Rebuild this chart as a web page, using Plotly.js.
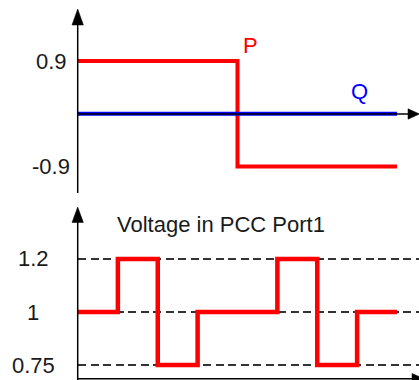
<!DOCTYPE html>
<html>
<head>
<meta charset="utf-8">
<script src="https://cdn.plot.ly/plotly-3.0.1.min.js"></script>
<style>html,body{margin:0;padding:0;background:#fff;}#chart{width:419px;height:380px;}</style>
</head>
<body>
<div id="chart"></div>
<script>
// ---- data ----
var pX = [0, 4, 8];
var pY = [0.9, -0.9, -0.9];
var qX = [0, 8];
var qY = [0, 0];
var vX = [0, 1, 2, 3, 5, 6, 7, 8];
var vY = [1, 1.2, 0.75, 1, 1.2, 0.75, 1, 1];
var topTickVals = [0.9, -0.9];
var topTickText = ['0.9', '-0.9'];
var vCategories = ['0.75', '1', '1.2'];
var bottomTickText = ['1.2', '1', '0.75'];
var pLabel = 'P';
var qLabel = 'Q';
var vTitle = 'Voltage in PCC Port1';

// ---- layout helpers (pixel -> paper) ----
var W = 419, H = 380;
function px(x) { return x / W; }
function py(y) { return 1 - y / H; }
var FONT = 'Liberation Sans, Arial, sans-serif';
var FS = 22;
var xDom = [px(78), 1];
var xRange = [0, 8.552];

var traces = [
  {x: pX, y: pY, xaxis: 'x', yaxis: 'y', mode: 'lines', line: {shape: 'hv', color: '#ff0000', width: 4}, hoverinfo: 'skip'},
  {x: qX, y: qY, xaxis: 'x', yaxis: 'y', mode: 'lines', line: {color: '#0000ff', width: 4}, hoverinfo: 'skip'},
  {x: vX, y: vY.map(String), xaxis: 'x2', yaxis: 'y2', mode: 'lines', line: {shape: 'hv', color: '#ff0000', width: 4.5}, hoverinfo: 'skip'}
];

function hiddenAxis(extra) {
  var a = {showgrid: false, zeroline: false, showticklabels: false, showline: false, ticks: '', fixedrange: true};
  for (var k in extra) a[k] = extra[k];
  return a;
}

var shapes = [];
function seg(x0, y0, x1, y1) {
  shapes.push({type: 'line', xref: 'paper', yref: 'paper', x0: px(x0), y0: py(y0), x1: px(x1), y1: py(y1), line: {color: '#000', width: 1.5}});
}
function tri(a, b, c) {
  var p = 'M ' + px(a[0]) + ',' + py(a[1]) + ' L ' + px(b[0]) + ',' + py(b[1]) + ' L ' + px(c[0]) + ',' + py(c[1]) + ' Z';
  shapes.push({type: 'path', xref: 'paper', yref: 'paper', path: p, fillcolor: '#000', line: {color: '#000', width: 0.5}});
}
var AX = 77.7;
// top panel axes
seg(AX, 22, AX, 193);
tri([AX, 9], [72, 25], [83.4, 25]);
seg(78, 114, 410, 114);
tri([419.5, 114], [408, 108.8], [408, 119.2]);
// bottom panel axes
seg(AX, 220, AX, 380);
tri([AX, 207], [72, 222.5], [83.4, 222.5]);
seg(77, 378.7, 414, 378.7);
tri([424, 378.7], [412, 373.5], [412, 383.9]);

var annotations = [];
topTickText.forEach(function (t, i) {
  annotations.push({xref: 'paper', yref: 'y', x: px(51), y: topTickVals[i], text: t, showarrow: false, xanchor: 'center', yanchor: 'middle', font: {family: FONT, size: FS, color: '#1a1a1a'}});
});
bottomTickText.forEach(function (t) {
  annotations.push({xref: 'paper', yref: 'y2', x: px(33), y: vCategories.indexOf(t), text: t, showarrow: false, xanchor: 'center', yanchor: 'middle', font: {family: FONT, size: FS, color: '#1a1a1a'}});
});
annotations.push({xref: 'paper', yref: 'paper', x: px(241), y: py(45.5), text: pLabel, showarrow: false, xanchor: 'left', yanchor: 'middle', font: {family: FONT, size: FS, color: '#ff0000'}});
annotations.push({xref: 'paper', yref: 'paper', x: px(349), y: py(92), text: qLabel, showarrow: false, xanchor: 'left', yanchor: 'middle', font: {family: FONT, size: FS, color: '#0000ff'}});
annotations.push({xref: 'paper', yref: 'paper', x: px(115), y: py(225), text: vTitle, showarrow: false, xanchor: 'left', yanchor: 'middle', font: {family: FONT, size: FS, color: '#1a1a1a'}});

var layout = {
  width: W, height: H,
  margin: {l: 0, r: 0, t: 0, b: 0, pad: 0},
  paper_bgcolor: '#fff', plot_bgcolor: 'rgba(0,0,0,0)',
  showlegend: false,
  font: {family: FONT, size: FS, color: '#1a1a1a'},
  xaxis: hiddenAxis({domain: xDom, range: xRange, anchor: 'y'}),
  yaxis: hiddenAxis({domain: [py(195), 1], range: [-1.386, 1.941], anchor: 'x'}),
  xaxis2: hiddenAxis({domain: xDom, range: xRange, anchor: 'y2'}),
  yaxis2: {domain: [0, py(200)], type: 'category', categoryorder: 'array', categoryarray: vCategories,
    range: [-0.283, 3.113], anchor: 'x2', showgrid: true, gridcolor: '#333', gridwidth: 1.5, griddash: '8px,4.5px',
    zeroline: false, showticklabels: false, showline: false, ticks: '', fixedrange: true},
  shapes: shapes,
  annotations: annotations
};

Plotly.newPlot('chart', traces, layout, {displayModeBar: false, staticPlot: true});
</script>
</body>
</html>
